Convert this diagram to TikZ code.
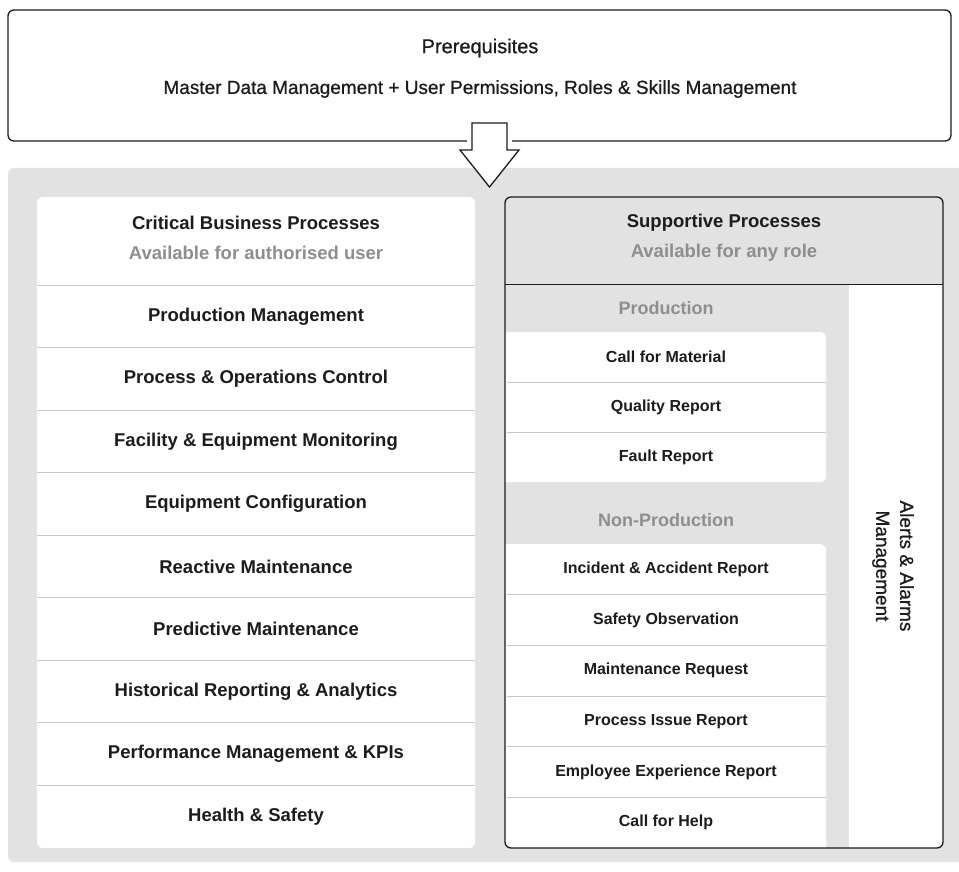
\documentclass[tikz,border=0pt]{standalone}
\usepackage{fontspec}
\setmainfont{Liberation Sans}
\newfontfamily\mediumfont[FakeBold=0.8]{Liberation Sans}
\usetikzlibrary{positioning}

\definecolor{panelgray}{HTML}{E2E2E2}
\definecolor{subgray}{HTML}{8E8E8E}
\definecolor{rulegray}{HTML}{C8C8C8}
\definecolor{ink}{HTML}{1C1C1C}

\begin{document}
\begin{tikzpicture}
[x=1pt,y=-1pt,
every node/.style={text=ink,inner sep=0pt,outer sep=0pt},
frame/.style={draw=ink,line width=1.3pt,rounded corners=6pt},
bigrow/.style={minimum width=438pt,minimum height=62.55pt,font=\fontsize{18.5}{22}\selectfont\bfseries},
smallrow/.style={minimum width=319pt,font=\fontsize{16}{19}\selectfont\bfseries},
head/.style={align=center,font=\fontsize{18.5}{30}\selectfont\bfseries},
grouplabel/.style={text=subgray,font=\fontsize{18}{22}\selectfont\bfseries},
sep/.style={draw=rulegray,line width=1pt}]

\useasboundingbox (0,0) rectangle (959,872);

% grey area behind both columns
\fill[panelgray,rounded corners=6pt] (8,168) rectangle (965,862);

% prerequisites box and the arrow out of it
\draw[frame,fill=white] (8,10) rectangle (951,141);
\node (prereq) at (480,48) {\mediumfont\fontsize{20}{24}\selectfont Prerequisites};
\node (masterdata) at (480,89) {\mediumfont\fontsize{19}{24}\selectfont Master Data Management + User Permissions, Roles \& Skills Management};
\draw[white,line width=3pt] (467,141) -- (512,141);
\draw[draw=ink,line width=1.3pt,fill=white,line join=miter]
  (472,123) -- (507,123) -- (507,150) -- (519,150) -- (489.5,187)
  -- (460,150) -- (472,150) -- cycle;

% critical business processes
\fill[white,rounded corners=6pt] (37,197) rectangle (475,848);
\node[head] (crithead) at (256,238) {Critical Business Processes\\\textcolor{subgray}{Available for authorised user}};
\node[bigrow,anchor=north] (crit1) at (256,285) {Production Management};
\node[bigrow,below=0pt of crit1] (crit2) {Process \& Operations Control};
\node[bigrow,below=0pt of crit2] (crit3) {Facility \& Equipment Monitoring};
\node[bigrow,below=0pt of crit3] (crit4) {Equipment Configuration};
\node[bigrow,below=0pt of crit4] (crit5) {Reactive Maintenance};
\node[bigrow,below=0pt of crit5] (crit6) {Predictive Maintenance};
\node[bigrow,below=0pt of crit6] (crit7) {Historical Reporting \& Analytics};
\node[bigrow,below=0pt of crit7] (crit8) {Performance Management \& KPIs};
\node[bigrow,below=0pt of crit8] (crit9) {Health \& Safety};
\draw[sep] (crit1.north west) -- (crit1.north east);
\foreach \i in {1,...,8}
  \draw[sep] (crit\i.south west) -- (crit\i.south east);

% supportive processes
\begin{scope}
\clip[rounded corners=6pt] (505,197) rectangle (943,848);
\fill[white] (849,285) rectangle (943,848);
\fill[white,rounded corners=6pt] (500,332) rectangle (826,482);
\fill[white,rounded corners=6pt] (500,544) rectangle (826,860);
\end{scope}
\node[head] (supphead) at (724,238) {Supportive Processes\\\textcolor{subgray}{Available for any role}};

\node[grouplabel] (prodlabel) at (666,308) {Production};
\node[smallrow,minimum height=50pt,anchor=north] (prod1) at (666,332) {Call for Material};
\node[smallrow,minimum height=50pt,below=0pt of prod1] (prod2) {Quality Report};
\node[smallrow,minimum height=50pt,below=0pt of prod2] (prod3) {Fault Report};
\draw[sep] (prod1.south west) -- (prod1.south east);
\draw[sep] (prod2.south west) -- (prod2.south east);

\node[grouplabel] (nonprodlabel) at (666,520) {Non-Production};
\node[smallrow,minimum height=50.67pt,anchor=north] (nonprod1) at (666,544) {Incident \& Accident Report};
\node[smallrow,minimum height=50.67pt,below=0pt of nonprod1] (nonprod2) {Safety Observation};
\node[smallrow,minimum height=50.67pt,below=0pt of nonprod2] (nonprod3) {Maintenance Request};
\node[smallrow,minimum height=50.67pt,below=0pt of nonprod3] (nonprod4) {Process Issue Report};
\node[smallrow,minimum height=50.67pt,below=0pt of nonprod4] (nonprod5) {Employee Experience Report};
\node[smallrow,minimum height=50.67pt,below=0pt of nonprod5] (nonprod6) {Call for Help};
\foreach \i in {1,...,5}
  \draw[sep] (nonprod\i.south west) -- (nonprod\i.south east);

\node[rotate=-90,align=center,font=\mediumfont\fontsize{19}{24}\selectfont] (alerts) at (893,566) {Alerts \& Alarms\\Management};

\draw[frame] (505,197) rectangle (943,848);
\draw[draw=ink,line width=1.3pt] (505,284.5) -- (943,284.5);
\end{tikzpicture}
\end{document}
